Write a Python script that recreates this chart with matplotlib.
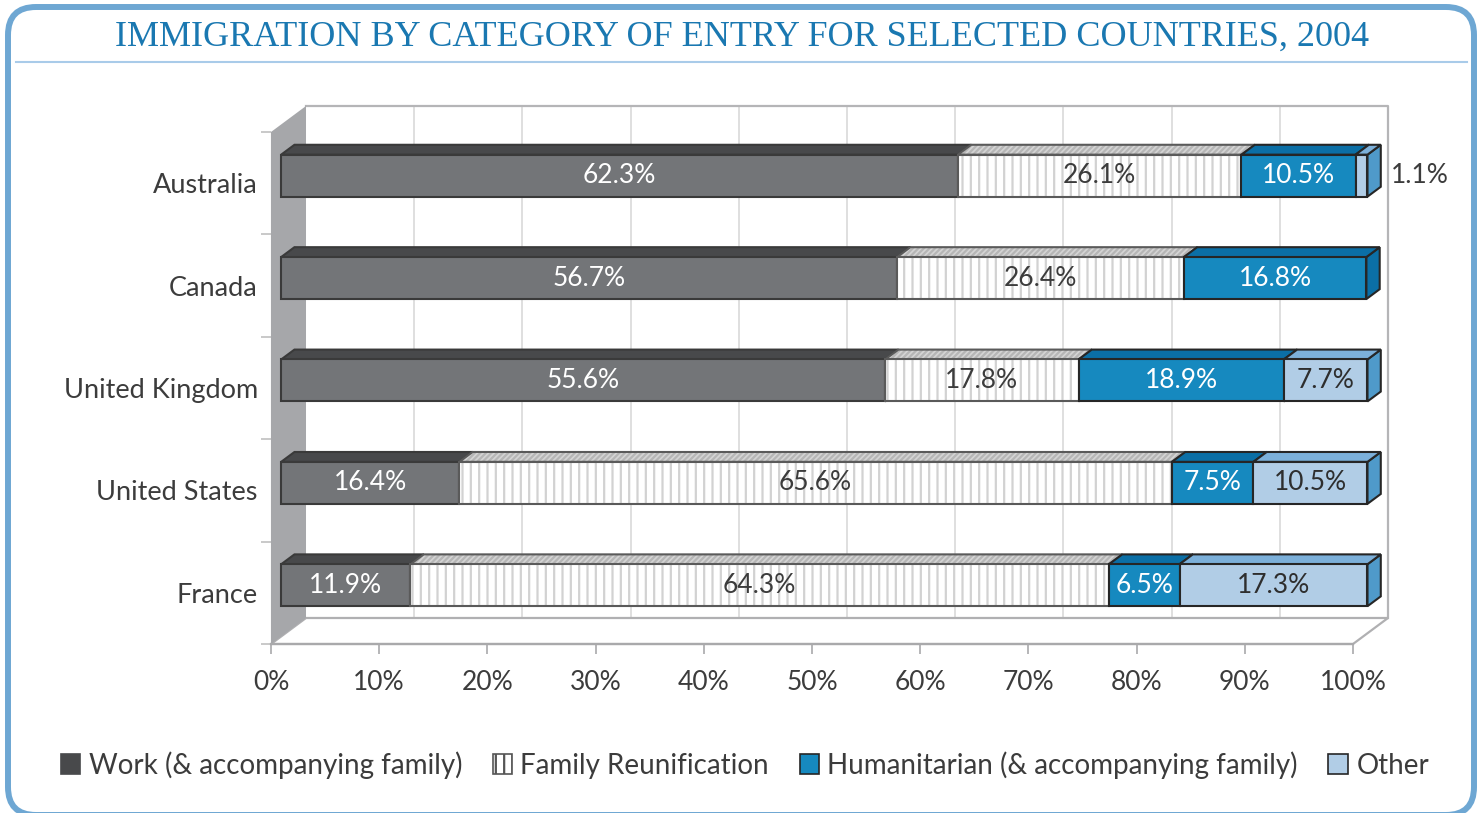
import numpy as np
import matplotlib
matplotlib.use("Agg")
import matplotlib.pyplot as plt
from matplotlib.patches import Polygon, FancyBboxPatch, Patch

# data (percent of 2004 immigration by entry category)
countries = ["Australia", "Canada", "United Kingdom", "United States", "France"]
categories = ["Work (& accompanying family)", "Family Reunification",
              "Humanitarian (& accompanying family)", "Other"]
work = [62.3, 56.7, 55.6, 16.4, 11.9]
family = [26.1, 26.4, 17.8, 65.6, 64.3]
humanitarian = [10.5, 16.8, 18.9, 7.5, 6.5]
other = [1.1, 0.0, 7.7, 10.5, 17.3]
xticks = [0, 10, 20, 30, 40, 50, 60, 70, 80, 90, 100]

series = [work, family, humanitarian, other]

# styles: front, top, side, edge, label colour
styles = [
    dict(front="#737578", top="#48494b", side="#48494b", edge="#3a3a3a", txt="white"),
    dict(front="white", top="#d4d4d4", side="#c8c8c8", edge="#5a5a5a", txt="#3c3c3c"),
    dict(front="#1689bf", top="#0b6fa6", side="#0b6fa6", edge="#262626", txt="white"),
    dict(front="#b1cde6", top="#7cb0da", side="#4f9aca", edge="#262626", txt="#2e2e2e"),
]

plt.rcParams["font.family"] = ["Lato", "DejaVu Sans"]
plt.rcParams["hatch.linewidth"] = 1.6

W, H = 1481, 813
fig = plt.figure(figsize=(W / 100, H / 100), dpi=100)

# background frame
bg = fig.add_axes([0, 0, 1, 1])
bg.set_xlim(0, W)
bg.set_ylim(H, 0)
bg.axis("off")
bg.add_patch(FancyBboxPatch((8, 7), 1466, 808, boxstyle="round,pad=0,rounding_size=28",
                            fc="white", ec="#6ea7d3", lw=4.3))
bg.plot([16, 1467], [62, 62], color="#a9cbe9", lw=1.5)
bg.text(742, 37, "IMMIGRATION BY CATEGORY OF ENTRY FOR SELECTED COUNTRIES, 2004",
        ha="center", va="center", color="#1a78b1", fontsize=26,
        family=["Liberation Serif", "DejaVu Serif"])

# chart axes = front plane
ax = fig.add_axes([271 / W, (H - 644) / H, 1082 / W, 512 / H])
ax.set_facecolor("none")
ax.set_xlim(0, 100)
ax.set_ylim(-0.5, 4.5)
n = len(countries)
ypos = [n - 1 - i for i in range(n)]

# depth offsets (data units)
Dx, Dy = 3.235, 0.254
f0, f1 = 0.29, 0.67
bh = 0.41
xs = 1.004  # bars run slightly wider than the front-plane scale (perspective)

grey = "#a9a9ab"
# back wall
ax.add_patch(Polygon([(Dx, -0.5 + Dy), (100 + Dx, -0.5 + Dy), (100 + Dx, 4.5 + Dy), (Dx, 4.5 + Dy)],
                     closed=True, fc="white", ec="none", clip_on=False, zorder=0.5))
for v in xticks[1:-1]:
    ax.plot([v + Dx, v + Dx], [-0.5 + Dy, 4.5 + Dy], color="#d6d6d6", lw=1.1,
            clip_on=False, zorder=0.6)
ax.plot([Dx, 100 + Dx, 100 + Dx], [4.5 + Dy, 4.5 + Dy, -0.5 + Dy], color="#b5b5b7",
        lw=1.6, clip_on=False, zorder=0.7)
# floor
ax.add_patch(Polygon([(0, -0.5), (100, -0.5), (100 + Dx, -0.5 + Dy), (Dx, -0.5 + Dy)],
                     closed=True, fc="white", ec="#b0b0b2", lw=1.6, clip_on=False, zorder=0.7))
# left wall
ax.add_patch(Polygon([(0, -0.5), (0, 4.5), (Dx, 4.5 + Dy), (Dx, -0.5 + Dy)],
                     closed=True, fc="#a6a7aa", ec="none", clip_on=False, zorder=0.8))


def box(x0, x1, yc, st, k, z):
    x0, x1 = x0 * xs, x1 * xs
    fx, fy = f0 * Dx, f0 * Dy
    bx, by = f1 * Dx, f1 * Dy
    yb, yt = yc - bh / 2, yc + bh / 2
    front = [(x0 + fx, yb + fy), (x1 + fx, yb + fy), (x1 + fx, yt + fy), (x0 + fx, yt + fy)]
    top = [(x0 + fx, yt + fy), (x1 + fx, yt + fy), (x1 + bx, yt + by), (x0 + bx, yt + by)]
    side = [(x1 + fx, yb + fy), (x1 + fx, yt + fy), (x1 + bx, yt + by), (x1 + bx, yb + by)]
    lw = 1.5
    ax.add_patch(Polygon(side, closed=True, fc=st["side"], ec=st["edge"], lw=lw,
                         clip_on=False, zorder=z, joinstyle="miter"))
    if k == 1:
        ax.add_patch(Polygon(top, closed=True, fc=st["top"], ec="#b6b6b6", lw=0,
                             hatch="//////", clip_on=False, zorder=z))
        ax.add_patch(Polygon(top, closed=True, fill=False, ec=st["edge"], lw=lw,
                             clip_on=False, zorder=z, joinstyle="miter"))
        ax.add_patch(Polygon(front, closed=True, fc="white", ec="#d2d2d2", lw=0,
                             hatch="||", clip_on=False, zorder=z))
        ax.add_patch(Polygon(front, closed=True, fill=False, ec=st["edge"], lw=lw,
                             clip_on=False, zorder=z, joinstyle="miter"))
    else:
        ax.add_patch(Polygon(top, closed=True, fc=st["top"], ec=st["edge"], lw=lw,
                             clip_on=False, zorder=z, joinstyle="miter"))
        ax.add_patch(Polygon(front, closed=True, fc=st["front"], ec=st["edge"], lw=lw,
                             clip_on=False, zorder=z, joinstyle="miter"))
    return (x0 + x1) / 2 + fx, yc + fy, x1 + bx


for i, c in enumerate(countries):
    y = ypos[i]
    left = 0.0
    for k, s in enumerate(series):
        v = s[i]
        if v <= 0:
            continue
        cx, cy, xend = box(left, left + v, y, styles[k], k, 2 + k * 0.1 + i * 0.5)
        if v >= 5:
            ax.text(cx, cy, f"{v:.1f}%", ha="center", va="center", color=styles[k]["txt"],
                    fontsize=19, zorder=10, clip_on=False)
        else:
            ax.text(xend + 0.9, cy, f"{v:.1f}%", ha="left", va="center",
                    color="#3c3c3c", fontsize=19, zorder=10, clip_on=False)
        left += v

# axes ticks / spines
for sp in ["top", "right"]:
    ax.spines[sp].set_visible(False)
ax.spines["left"].set_color("#a6a7aa")
ax.spines["bottom"].set_color("#a9a9ab")
ax.spines["bottom"].set_linewidth(1.6)
ax.set_xticks(xticks, labels=[f"{t}%" for t in xticks])
ax.set_yticks(np.arange(-0.5, 5, 1), labels=[""] * 6)
ax.set_yticks(ypos, labels=countries, minor=True)
ax.tick_params(axis="x", length=7, width=1.2, color=grey, labelsize=19,
               labelcolor="#3c3c3c", pad=11.5)
ax.tick_params(axis="y", which="major", length=7, width=1.2, color="#c0c0c0")
ax.tick_params(axis="y", which="minor", length=0, labelsize=19.5, labelcolor="#3c3c3c", pad=9.5)

# legend
handles = []
for k, st in enumerate(styles):
    if k == 1:
        handles.append(Patch(fc="white", ec="#555555", hatch="||", lw=1.2))
    elif k == 0:
        handles.append(Patch(fc="#48494b", ec="#48494b", lw=1.2))
    else:
        handles.append(Patch(fc=st["front"], ec="#262626", lw=1.2))
leg = fig.legend(handles, categories, loc="center", bbox_to_anchor=(0.503, (H - 765) / H),
                 ncol=4, frameon=False, fontsize=20, handlelength=0.7, handleheight=0.7,
                 handletextpad=0.3, columnspacing=1.1)
for t in leg.get_texts():
    t.set_color("#3c3c3c")

fig.savefig("out.png", dpi=100)
